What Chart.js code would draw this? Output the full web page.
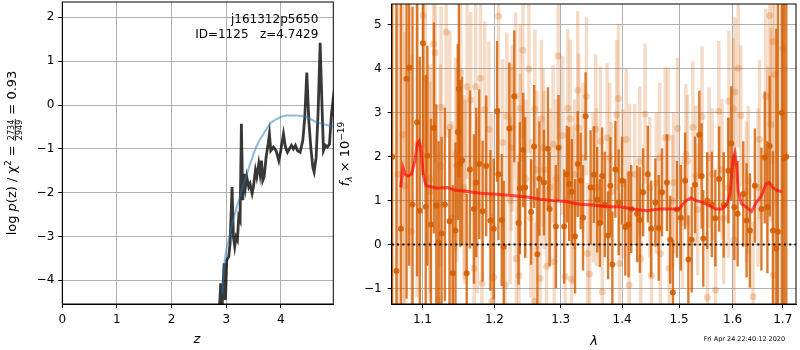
<!DOCTYPE html>
<html>
<head>
<meta charset="utf-8">
<script src="https://cdn.jsdelivr.net/npm/chart.js@4.4.1/dist/chart.umd.min.js"></script>
<style>
html, body { margin: 0; padding: 0; background: #fff; }
#wrap { position: relative; width: 800px; height: 350px; }
canvas { position: absolute; left: 0; top: 0; }
</style>
</head>
<body>
<div id="wrap">
  <canvas id="pz" width="800" height="350"></canvas>
  <canvas id="spec" width="800" height="350"></canvas>
</div>
<script>
// ---- left panel: log p(z) ----
const zTicks = [0, 1, 2, 3, 4];
const logpTicks = [-4, -3, -2, -1, 0, 1, 2];
const zRange = [0, 4.96];
const logpRange = [-4.54, 2.35];

const zGrid = [2.851,2.875,2.900,2.924,2.961,2.985,3.010,3.046,3.071,3.107,
  3.132,3.156,3.181,3.205,3.230,3.254,3.278,3.303,3.327,3.352,
  3.376,3.413,3.437,3.474,3.498,3.535,3.559,3.596,3.620,3.645,
  3.669,3.694,3.730,3.767,3.791,3.816,3.864,3.913,3.962,3.999,
  4.048,4.084,4.121,4.158,4.194,4.231,4.267,4.304,4.353,4.402,
  4.438,4.475,4.512,4.548,4.585,4.609,4.646,4.683,4.719,4.756,
  4.780,4.817,4.853,4.890,4.927,4.951,4.988];
const logPz = [-5.0,-4.67,-4.07,-4.67,-3.61,-4.45,-3.54,-3.46,-3.16,-1.87,
  -3.01,-3.23,-3.01,-3.08,-2.55,-2.63,-0.43,-2.17,-1.57,-1.87,
  -1.64,-1.87,-1.80,-2.02,-1.87,-1.49,-1.64,-1.34,-1.57,-1.27,
  -1.72,-1.64,-1.19,-0.89,-0.66,-1.04,-0.96,-1.04,-1.27,-1.04,
  -0.66,-0.96,-1.08,-1.00,-0.92,-1.00,-0.92,-1.04,-1.08,-0.81,
  -0.28,0.74,-0.36,-0.96,-1.42,-1.53,-1.19,-0.13,1.42,-0.13,
  -1.04,-0.92,-0.96,-0.89,-0.20,0.06,-0.36];

const zFit = [2.930,2.961,3.071,3.193,3.315,3.437,3.559,3.681,3.803,3.926,4.109,4.292,4.475,4.658,4.963];
const logPzFit = [-4.3,-3.69,-2.93,-2.33,-1.82,-1.35,-0.93,-0.66,-0.43,-0.32,-0.24,-0.24,-0.28,-0.39,-0.49];

const objName = 'j161312p5650';
const idLine = 'ID=1125   z=4.7429';
const stamp = 'Fri Apr 24 22:40:12 2020';

// ---- right panel: spectrum ----
const lamTicks = [1.1, 1.2, 1.3, 1.4, 1.5, 1.6, 1.7];
const fluxTicks = [-1, 0, 1, 2, 3, 4, 5];
const lamRange = [1.0599, 1.7274];
const fluxRange = [-1.35, 5.47];

// dark (main) spectrum
const lamA = [1.0605,1.0660,1.0718,1.0791,1.0825,1.0869,1.0929,1.0965,1.1008,1.1044,
  1.1066,1.1114,1.1154,1.1186,1.1217,1.1257,1.1302,1.1366,1.1411,1.1448,
  1.1480,1.1495,1.1512,1.1539,1.1604,1.1650,1.1706,1.1739,1.1781,1.1829,
  1.1881,1.1942,1.1990,1.2038,1.2057,1.2106,1.2135,1.2217,1.2291,1.2355,
  1.2374,1.2424,1.2453,1.2543,1.2589,1.2639,1.2669,1.2740,1.2801,1.2827,
  1.2924,1.2966,1.3054,1.3096,1.3133,1.3175,1.3227,1.3270,1.3317,1.3355,
  1.3397,1.3478,1.3532,1.3586,1.3629,1.3667,1.3711,1.3766,1.3804,1.3837,
  1.3887,1.3943,1.3999,1.4055,1.4111,1.4156,1.4258,1.4304,1.4361,1.4442,
  1.4500,1.4575,1.4634,1.4692,1.4780,1.4839,1.4887,1.4960,1.5030,1.5108,
  1.5168,1.5229,1.5290,1.5370,1.5413,1.5443,1.5517,1.5604,1.5670,1.5742,
  1.5830,1.5919,1.5975,1.6034,1.6098,1.6208,1.6273,1.6338,1.6436,1.6567,
  1.6634,1.6687,1.6734,1.6801,1.6868,1.6902,1.6980,1.7024,1.7072];
const fluxA = [2.0,-0.6,0.36,3.77,4.02,0.91,2.78,0.77,4.58,0.86,
  2.02,0.46,2.65,0.89,0.05,0.25,0.91,0.53,-0.65,0.32,
  2.56,3.54,1.85,1.92,-0.65,1.71,0.81,1.41,1.83,0.76,
  1.79,0.55,0.36,3.03,1.60,0.56,-0.05,2.64,3.37,0.49,
  1.28,2.15,1.30,0.74,2.23,-0.22,1.50,1.41,2.18,0.81,
  0.41,2.20,0.41,1.60,1.38,1.20,0.19,1.83,1.45,0.61,
  2.92,1.30,1.59,1.02,0.49,1.56,0.91,0.21,1.34,-0.45,
  1.71,0.96,1.45,0.40,0.46,0.81,0.70,0.56,1.19,1.60,
  0.36,0.96,0.38,1.19,1.41,0.11,-1.09,0.80,0.61,1.45,
  -0.34,0.11,1.36,2.50,1.56,0.14,1.00,0.91,0.60,1.49,
  0.90,1.68,2.30,0.85,0.70,1.15,0.55,0.32,1.34,0.81,
  1.98,0.85,2.24,0.32,-0.09,0.29,3.00,1.96,2.00];
const errA = [8,7,5.5,5,4.5,4.5,3.5,3.5,3,3,
  2.5,2.4,2.4,2.3,2.3,2.2,2.2,2.1,2.0,2.0,
  2.0,2.0,1.9,1.9,1.8,1.8,1.7,1.7,1.7,1.6,
  1.6,1.6,1.6,1.6,1.5,1.5,1.5,1.5,1.5,1.4,
  1.5,1.3,1.6,1.2,1.4,1.5,1.3,1.2,1.4,1.3,
  1.4,1.2,1.3,1.1,1.3,1.2,1.3,1.2,1.1,1.2,
  1.0,1.3,1.1,1.2,1.0,1.1,1.2,1.0,1.1,1.2,
  1.1,1.2,1.0,1.1,1.2,1.0,1.1,1.2,1.0,1.1,
  1.1,1.0,1.2,1.0,1.1,1.0,1.2,1.1,1.2,1.1,
  1.0,1.2,1.1,1.0,1.2,1.1,1.1,1.2,1.1,1.2,
  1.2,1.2,1.3,1.2,1.2,1.2,1.3,1.3,1.3,1.4,
  1.5,1.5,1.6,1.8,5,6,7,7,9];

// pale (second beam) spectrum
const lamB = [1.068,1.0745,1.0855,1.093,1.101,1.104,1.110,1.115,1.117,1.122,
  1.125,1.132,1.137,1.140,1.1465,1.152,1.158,1.161,1.166,1.171,
  1.173,1.180,1.182,1.186,1.192,1.196,1.199,1.206,1.212,1.216,
  1.218,1.223,1.226,1.231,1.232,1.236,1.238,1.242,1.246,1.251,
  1.254,1.259,1.260,1.268,1.270,1.274,1.278,1.283,1.288,1.290,
  1.296,1.303,1.307,1.311,1.315,1.317,1.322,1.327,1.3285,1.341,
  1.343,1.346,1.352,1.356,1.364,1.367,1.375,1.382,1.391,1.394,
  1.396,1.407,1.412,1.4215,1.432,1.4395,1.4506,1.4593,1.4663,1.475,
  1.480,1.482,1.4884,1.497,1.506,1.515,1.525,1.534,1.542,1.552,
  1.561,1.5675,1.5736,1.583,1.593,1.6015,1.603,1.6045,1.611,1.616,
  1.627,1.640,1.653,1.6656,1.6734,1.676,1.679,1.6805,1.6838,1.700,
  1.0767,1.1102,1.1242,1.1451,1.1567,1.1753,1.1963,1.2245,1.2381,1.2629,
  1.2728,1.2926,1.3191,1.3355,1.3574,1.3792,1.4012,1.4128,1.4302,1.4477,
  1.4651,1.4900,1.5123,1.5307,1.5552,1.5798,1.5920,1.6305,1.6500,1.6695];
const fluxB = [1.6,2.5,0.3,2.3,5.21,3.77,1.2,4.56,4.36,-1.26,
  3.12,4.83,2.67,0.6,1.8,3.91,1.2,3.59,3.29,-0.54,
  3.59,3.78,-0.88,3.07,2.62,-1.29,-0.74,5.19,2.32,-0.92,
  2.92,1.0,2.65,3.38,-0.32,-0.71,3.1,4.42,1.5,3.99,
  0.6,-1.29,3.09,-0.77,2.86,1.7,-0.5,1.3,2.28,-0.39,
  4.29,2.48,-0.73,3.1,2.86,-0.79,1.6,3.51,2.65,3.37,
  -0.2,-0.67,1.3,2.62,2.35,-1.07,2.43,1.2,2.95,3.32,
  -0.43,2.39,-0.92,1.6,-0.32,2.97,-0.71,1.4,-0.2,2.43,
  2.43,-0.54,1.0,2.64,0.5,1.9,2.67,0.8,2.91,-1.2,
  1.6,-1.03,3.03,0.6,3.26,3.09,0.1,3.47,4.01,2.93,
  1.2,-1.18,2.39,3.37,5.21,2.73,4.62,-0.69,3.87,4.46,
  1.34,1.5,1.8,2.05,1.3,0.9,1.07,2.2,1.98,1.7,
  2.2,1.5,0.9,1.98,1.3,1.98,1.38,1.6,1.9,1.3,
  1.98,1.41,2.05,1.56,1.98,1.71,1.3,1.45,1.3,2.05];
const errB = [4,4.5,4,3.5,3,2.8,2.5,2.5,2.5,2.2,
  2.3,2.4,2.2,2.2,2.2,2.1,2.1,2.1,2.0,2.0,
  2.0,2.0,2.0,2.0,2.0,2.0,1.9,2.3,1.9,1.9,
  1.9,1.9,1.9,1.9,1.8,1.8,1.9,2.0,1.8,1.9,
  1.8,1.8,1.8,1.8,1.8,1.8,1.8,1.8,1.8,1.8,
  1.9,1.8,1.8,1.8,1.8,1.7,1.7,1.8,1.7,1.8,
  1.6,1.7,1.7,1.7,1.7,1.6,1.7,1.6,1.7,1.7,
  1.6,1.6,1.6,1.6,1.6,1.6,1.6,1.6,1.5,1.6,
  1.6,1.5,1.5,1.6,1.5,1.5,1.5,1.5,1.6,1.5,
  1.5,1.5,1.6,1.5,1.6,1.6,1.5,1.7,1.8,1.6,
  1.6,1.7,1.8,2.0,2.5,2.2,2.8,2.0,3.0,4,
  3.5,2.6,2.3,2.2,2.1,2.0,1.9,1.9,1.9,1.8,
  1.8,1.8,1.8,1.7,1.8,1.7,1.7,1.6,1.7,1.6,
  1.7,1.6,1.6,1.6,1.6,1.6,1.6,1.7,1.8,2.0];

// model
const lamModel = [1.0715,1.0745,1.0772,1.0811,1.0855,1.0899,1.093,1.0956,1.0978,1.1009,
  1.1047,1.1102,1.1195,1.1242,1.1335,1.1428,1.1614,1.18,1.1986,1.2282,
  1.248,1.2678,1.2876,1.3082,1.33,1.3519,1.3738,1.3956,1.4186,1.4419,
  1.4651,1.4884,1.5,1.5123,1.5215,1.5307,1.5429,1.5552,1.5675,1.5798,
  1.589,1.5951,1.5982,1.6013,1.6045,1.6078,1.611,1.6175,1.6273,1.637,
  1.6468,1.6565,1.6662,1.6727,1.6792,1.689,1.6987];
const fluxModel = [1.3,1.75,1.6,1.56,1.6,1.9,2.28,2.35,2.2,1.6,
  1.34,1.32,1.28,1.29,1.3,1.24,1.21,1.17,1.15,1.11,
  1.08,1.03,1.0,0.98,0.92,0.9,0.86,0.86,0.81,0.77,
  0.81,0.81,0.81,1.0,1.06,1.0,0.96,0.89,0.81,0.81,
  0.92,1.15,1.6,1.98,2.09,1.75,1.23,0.92,0.85,0.75,
  0.96,1.11,1.38,1.41,1.3,1.23,1.2];

// ---- helpers ----
Chart.defaults.font.family = '"DejaVu Sans", sans-serif';
Chart.defaults.font.size = 12;
Chart.defaults.color = '#000';

const pts = (xs, ys) => xs.map((x, i) => ({ x: x, y: ys[i] }));
const fixedTicks = vals => s => { s.ticks = vals.map(v => ({ value: v })); };
const fmtMinus = v => (v < 0 ? '\u2212' + Math.abs(v) : String(v));
// force axis box sizes and drop the label overhang padding chart.js adds
const fitX = h => s => { s.height = h; s.paddingLeft = 0; s.paddingRight = 0; };
const fitY = w => s => { s.width = w; s.paddingTop = 0; s.paddingBottom = 0; };

function axis(extra) {
  return Object.assign({
    grid: { color: '#b0b0b0', lineWidth: 1, tickColor: '#000', tickLength: 4 },
    border: { color: '#000', width: 1 },
    ticks: { maxRotation: 0, autoSkip: false, font: { size: 12 } }
  }, extra);
}

// error bars drawn just before each dataset's points
const errorBars = {
  id: 'errorBars',
  beforeDatasetDraw(chart, args) {
    const ds = chart.data.datasets[args.index];
    if (!ds.errs) return;
    const { ctx, chartArea: a, scales } = chart;
    ctx.save();
    ctx.beginPath();
    ctx.rect(a.left, a.top, a.width, a.height);
    ctx.clip();
    ctx.strokeStyle = ds.barColor;
    ctx.lineWidth = ds.barWidth;
    ds.data.forEach((p, i) => {
      const x = scales.x.getPixelForValue(p.x);
      ctx.beginPath();
      ctx.moveTo(x, scales.y.getPixelForValue(p.y - ds.errs[i]));
      ctx.lineTo(x, scales.y.getPixelForValue(p.y + ds.errs[i]));
      ctx.stroke();
    });
    ctx.restore();
  }
};

// rotated label made of pieces (text runs and one fraction)
function rotatedLabel(ctx, parts, cx, cy) {
  ctx.save();
  ctx.translate(cx, cy);
  ctx.rotate(-Math.PI / 2);
  let total = 0;
  parts.forEach(p => {
    ctx.font = p.font;
    p.w = p.frac ? Math.max(ctx.measureText(p.frac[0]).width, ctx.measureText(p.frac[1]).width) + 2
                 : ctx.measureText(p.t).width;
    total += p.w;
  });
  let x = -total / 2;
  ctx.fillStyle = '#000';
  ctx.textBaseline = 'alphabetic';
  parts.forEach(p => {
    ctx.font = p.font;
    if (p.frac) {
      ctx.textAlign = 'center';
      ctx.fillText(p.frac[0], x + p.w / 2, -2.2);
      ctx.fillText(p.frac[1], x + p.w / 2, 5.6);
      ctx.fillRect(x, -1.2, p.w, 0.8);
    } else {
      ctx.textAlign = 'left';
      ctx.fillText(p.t, x, p.dy || 0);
    }
    x += p.w;
  });
  ctx.restore();
}

function frame(ctx, a) {
  ctx.strokeStyle = '#000';
  ctx.lineWidth = 1;
  ctx.strokeRect(a.left, a.top, a.width, a.height);
}

const F = '13px "DejaVu Sans"';
const FI = 'italic 13px "DejaVu Sans"';
const FS = '9px "DejaVu Sans"';
const FSI = 'italic 9px "DejaVu Sans"';
const FF = '8px "DejaVu Sans"';

const pzDecor = {
  id: 'pzDecor',
  afterDraw(chart) {
    const { ctx, chartArea: a } = chart;
    ctx.save();
    frame(ctx, a);
    ctx.fillStyle = '#000';
    ctx.font = '12px "DejaVu Sans"';
    ctx.textAlign = 'right';
    ctx.fillText(objName, a.right - 15, 23);
    ctx.fillText(idLine, a.right - 15, 38);
    ctx.font = FI;
    ctx.textAlign = 'center';
    ctx.fillText('z', (a.left + a.right) / 2 - 1, 343);
    rotatedLabel(ctx, [
      { font: F, t: 'log ' }, { font: FI, t: 'p' }, { font: F, t: '(z) / \u03c7' },
      { font: FS, t: '2', dy: -5 }, { font: F, t: ' = ' },
      { font: FF, frac: ['2734', '2949'] }, { font: F, t: ' = 0.93' }
    ], 16, (a.top + a.bottom) / 2);
    ctx.restore();
  }
};

const specDecor = {
  id: 'specDecor',
  afterDraw(chart) {
    const { ctx, chartArea: a } = chart;
    ctx.save();
    frame(ctx, a);
    ctx.fillStyle = '#000';
    ctx.font = FI;
    ctx.textAlign = 'center';
    ctx.fillText('\u03bb', 594, 345);
    ctx.font = '6.5px "DejaVu Sans"';
    ctx.fillText(stamp, 744.5, 341);
    rotatedLabel(ctx, [
      { font: FI, t: 'f' }, { font: FSI, t: '\u03bb', dy: 3 },
      { font: F, t: ' \u00d7 10' }, { font: FS, t: '\u221219', dy: -5 }
    ], 348.5, (a.top + a.bottom) / 2);
    ctx.restore();
  }
};

const common = {
  responsive: false,
  animation: false,
  devicePixelRatio: 1,
  events: [],
  plugins: { legend: { display: false }, tooltip: { enabled: false } }
};

// ---- left chart ----
new Chart(document.getElementById('pz'), {
  type: 'scatter',
  data: {
    datasets: [
      { data: pts(zFit, logPzFit), showLine: true, borderColor: 'rgba(31,119,180,0.5)',
        borderWidth: 2, pointRadius: 0, cubicInterpolationMode: 'monotone' },
      { data: pts(zGrid, logPz), showLine: true, borderColor: 'rgba(0,0,0,0.78)',
        borderWidth: 2.8, pointRadius: 0 }
    ]
  },
  options: Object.assign({}, common, {
    layout: { padding: { left: 0, right: 466.7, top: 2, bottom: 0 } },
    scales: {
      x: axis({ type: 'linear', min: zRange[0], max: zRange[1],
        afterBuildTicks: fixedTicks(zTicks), afterFit: fitX(46),
        ticks: { padding: 5, maxRotation: 0, autoSkip: false, callback: fmtMinus } }),
      y: axis({ type: 'linear', min: logpRange[0], max: logpRange[1],
        afterBuildTicks: fixedTicks(logpTicks), afterFit: fitY(62.3),
        ticks: { padding: 4, autoSkip: false, callback: fmtMinus } })
    }
  }),
  plugins: [pzDecor]
});

// ---- right chart ----
const zeroLine = [lamRange[0], lamRange[1]];
new Chart(document.getElementById('spec'), {
  type: 'scatter',
  data: {
    datasets: [
      { data: pts(zeroLine, [0, 0]), showLine: true, borderColor: '#000', borderWidth: 2,
        borderDash: [2, 3.3], pointRadius: 0 },
      { data: pts(lamModel, fluxModel), showLine: true, borderColor: 'rgba(255,0,0,0.65)',
        borderWidth: 3, pointRadius: 0 },
      { data: pts(lamA, fluxA), errs: errA, barColor: 'rgba(213,94,0,0.82)', barWidth: 2.4,
        pointRadius: 3, backgroundColor: 'rgba(213,94,0,0.9)', borderWidth: 0 },
      { data: pts(lamB, fluxB), errs: errB, barColor: 'rgba(213,94,0,0.22)', barWidth: 3.5,
        pointRadius: 3.5, backgroundColor: 'rgba(213,94,0,0.25)', borderWidth: 0 }
    ]
  },
  options: Object.assign({}, common, {
    layout: { padding: { left: 340, right: 1, top: 2, bottom: 0 } },
    scales: {
      x: axis({ type: 'logarithmic', min: lamRange[0], max: lamRange[1],
        afterBuildTicks: fixedTicks(lamTicks), afterFit: fitX(46),
        ticks: { padding: 5, maxRotation: 0, autoSkip: false, callback: v => Number(v).toFixed(1) } }),
      y: axis({ type: 'linear', min: fluxRange[0], max: fluxRange[1],
        afterBuildTicks: fixedTicks(fluxTicks), afterFit: fitY(51.7),
        ticks: { padding: 6, autoSkip: false, callback: fmtMinus } })
    }
  }),
  plugins: [errorBars, specDecor]
});
</script>
</body>
</html>
